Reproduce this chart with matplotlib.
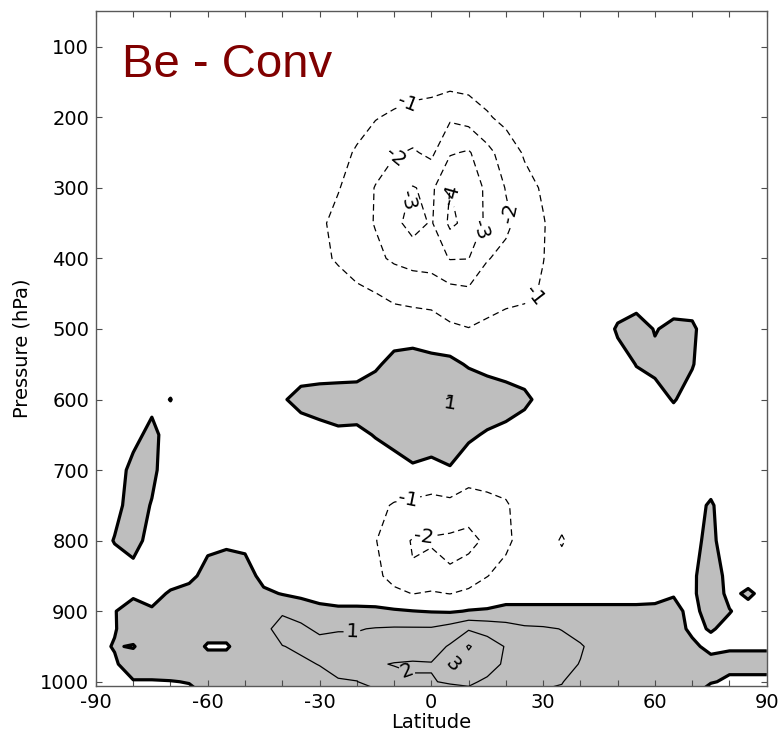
import numpy as np
import matplotlib
matplotlib.use("Agg")
import matplotlib.pyplot as plt
from matplotlib.ticker import MultipleLocator

plt.rcParams['axes.unicode_minus'] = False
plt.rcParams['lines.scale_dashes'] = False
plt.rcParams['lines.dashed_pattern'] = [4.7, 2.9]

# latitude grid (deg) and pressure levels (hPa)
lats = np.arange(-90, 95, 5)
plev = [50, 100, 150, 200, 250, 300, 350, 400, 450, 500, 550, 600, 650,
        700, 750, 800, 850, 875, 900, 925, 950, 975, 1000, 1013]

# Be - Conv difference, one row per pressure level, columns -90..90 every 5 deg
diff = [
    # 50
    [-.5, -.5, -.5, -.5, -.5, -.5, -.5, -.5, -.5, -.5,
     -.5, -.5, -.5, -.5, -.5, -.5, -.5, -.5, -.5, -.5,
     -.5, -.5, -.5, -.5, -.5, -.5, -.5, -.5, -.5, -.5,
     -.5, -.5, -.5, -.5, -.5, -.5, -.5],
    # 100
    [-.5, -.5, -.5, -.5, -.5, -.5, -.5, -.5, -.5, -.5,
     -.5, -.5, -.5, -.5, -.5, -.5, -.5, -.5, -.5, -.5,
     -.5, -.5, -.5, -.5, -.5, -.5, -.5, -.5, -.5, -.5,
     -.5, -.5, -.5, -.5, -.5, -.5, -.5],
    # 150
    [-.5, -.5, -.5, -.5, -.5, -.5, -.5, -.5, -.5, -.5,
     -.5, -.5, -.5, -.5, -.5, -.5, -.5, -.6, -.65, -.7,
     -.65, -.55, -.5, -.5, -.5, -.5, -.5, -.5, -.5, -.5,
     -.5, -.5, -.5, -.5, -.5, -.5, -.5],
    # 200
    [-.5, -.5, -.5, -.5, -.5, -.5, -.5, -.5, -.5, -.5,
     -.5, -.5, -.5, -.5, -.65, -.95, -1.15, -1.35, -1.45, -1.85,
     -1.6, -1.1, -.75, -.6, -.5, -.5, -.5, -.5, -.5, -.5,
     -.5, -.5, -.5, -.5, -.5, -.5, -.5],
    # 250
    [-.5, -.5, -.5, -.5, -.5, -.5, -.5, -.5, -.5, -.5,
     -.5, -.5, -.5, -.7, -1.1, -1.5, -1.9, -2.1, -1.8, -2.9,
     -3.1, -2.3, -1.5, -.9, -.6, -.5, -.5, -.5, -.5, -.5,
     -.5, -.5, -.5, -.5, -.5, -.5, -.5],
    # 300
    [-.5, -.5, -.5, -.5, -.5, -.5, -.5, -.5, -.5, -.5,
     -.5, -.5, -.6, -.95, -1.4, -2.05, -2.6, -3.05, -2.8, -4.0,
     -3.6, -2.8, -1.95, -1.3, -.9, -.6, -.5, -.5, -.5, -.5,
     -.5, -.5, -.5, -.5, -.5, -.5, -.5],
    # 350
    [-.5, -.5, -.5, -.5, -.5, -.5, -.5, -.5, -.5, -.5,
     -.5, -.55, -.85, -1.25, -1.65, -2.05, -2.7, -3.4, -2.9, -4.2,
     -3.7, -2.8, -2.2, -1.6, -1.05, -.6, -.5, -.5, -.5, -.5,
     -.5, -.5, -.5, -.5, -.5, -.5, -.5],
    # 400
    [-.5, -.5, -.5, -.5, -.5, -.5, -.5, -.5, -.5, -.5,
     -.5, -.5, -.8, -1.1, -1.45, -1.8, -2.15, -2.4, -2.5, -3.05,
     -3.02, -2.05, -1.75, -1.4, -1.02, -.6, -.5, -.5, -.5, -.5,
     -.5, -.5, -.5, -.5, -.5, -.5, -.5],
    # 450
    [-.5, -.5, -.5, -.5, -.5, -.5, -.5, -.5, -.5, -.5,
     -.5, -.5, -.5, -.6, -.8, -.98, -1.2, -1.25, -1.3, -1.6,
     -1.75, -1.45, -1.3, -1.2, -.9, -.6, -.5, -.5, -.5, -.5,
     -.5, -.5, -.5, -.5, -.5, -.5, -.5],
    # 500
    [-.5, -.5, -.5, -.5, -.5, -.5, -.5, -.5, -.5, -.5,
     -.5, -.5, -.5, -.5, -.5, -.5, -.5, -.6, -.65, -.85,
     -.97, -.8, -.6, -.5, -.5, -.5, -.5, -.5, .1, .4,
     -.05, .2, .15, -.5, -.5, -.5, -.5],
    # 550
    [-.5, -.5, -.5, -.5, -.5, -.5, -.5, -.5, -.5, -.5,
     -.5, -.5, -.5, -.5, -.5, -.15, .3, .5, .3, .25,
     -.1, -.3, -.5, -.5, -.5, -.5, -.5, -.5, -.3, .02,
     .2, .7, .05, -.5, -.5, -.5, -.5],
    # 600
    [-.5, -.5, -.5, -.3, .02, -.5, -.5, -.5, -.5, -.5,
     -.1, .3, .4, .45, .5, .6, .7, .8, .85, 1.05,
     .8, .6, .5, .2, -.3, -.5, -.5, -.5, -.5, -.3,
     -.3, .05, -.3, -.5, -.5, -.5, -.5],
    # 650
    [-.5, -.5, -.3, .3, -.5, -.5, -.5, -.5, -.5, -.5,
     -.5, -.5, -.3, -.15, -.2, .05, .4, .6, .6, .7,
     .15, -.1, -.3, -.5, -.5, -.5, -.5, -.5, -.5, -.5,
     -.5, -.5, -.5, -.5, -.5, -.5, -.5],
    # 700
    [-.5, -.5, .3, .2, -.5, -.5, -.5, -.5, -.5, -.5,
     -.5, -.5, -.5, -.5, -.5, -.5, -.5, -.15, -.35, -.1,
     -.5, -.5, -.5, -.5, -.5, -.5, -.5, -.5, -.5, -.5,
     -.5, -.5, -.5, -.5, -.5, -.5, -.5],
    # 750
    [-.5, -.3, .4, -.05, -.5, -.5, -.5, -.5, -.5, -.5,
     -.5, -.5, -.5, -.5, -.5, -.85, -1.05, -1.2, -1.3, -1.25,
     -1.5, -1.3, -1.1, -.6, -.5, -.5, -.5, -.5, -.5, -.5,
     -.5, -.5, -.3, .1, -.5, -.5, -.5],
    # 800
    [-.5, .05, .4, -.4, -.5, -.5, -.3, -.2, -.3, -.5,
     -.5, -.5, -.5, -.5, -.5, -.95, -1.7, -2.05, -2.1, -2.2,
     -2.3, -1.8, -1.2, -.6, -.5, -1.1, -.5, -.5, -.5, -.5,
     -.5, -.5, -.2, .2, -.5, -.5, -.5],
    # 850
    [-.5, -.5, -.4, -.4, -.4, -.3, .4, .6, .5, -.35,
     -.5, -.5, -.5, -.5, -.5, -.8, -1.3, -1.95, -1.6, -1.9,
     -1.5, -1.02, -.7, -.5, -.5, -.5, -.5, -.5, -.5, -.5,
     -.5, -.5, -.15, .5, -.3, -.5, -.5],
    # 875
    [-.4, -.2, -.2, -.3, .1, .4, .7, .8, .7, .2,
     -.05, -.3, -.4, -.5, -.5, -.6, -.8, -1.02, -.9, -1.02,
     -.8, -.6, -.5, -.5, -.5, -.5, -.5, -.5, -.5, -.5,
     -.4, -.1, -.2, .7, -.3, .2, -.4],
    # 900
    [-.4, -.05, .5, .1, .8, .8, .8, .9, .9, .6,
     .9, .8, .3, .2, .2, .2, .1, .02, -.05, -.1,
     .05, .1, .3, .3, .3, .3, .3, .3, .3, .3,
     .3, .4, -.4, .6, .05, -.4, -.4],
    # 925
    [-.4, -.1, .8, .8, .8, .8, .8, .8, .8, .8,
     1.3, 1.1, .9, .95, .95, 1.05, 1.1, 1.1, 1.1, 1.4,
     1.9, 1.7, 1.4, 1.15, 1.1, .98, .8, .6, .6, .6,
     .6, .6, -.3, .1, -.3, -.5, -.5],
    # 950
    [-.4, .1, -.1, .9, .9, .9, -.2, -.2, .9, .85,
     .98, 1.1, 1.2, 1.25, 1.25, 1.3, 1.4, 1.5, 1.6, 2.1,
     3.1, 2.4, 1.95, 1.5, 1.3, 1.2, 1.05, .8, .7, .7,
     .7, .7, .3, -.4, -.1, -.1, -.1],
    # 975
    [-.4, -.2, .8, .8, .8, .8, .8, .8, .8, .8,
     .8, .9, 1.02, 1.2, 1.4, 1.9, 2.05, 2.1, 2.05, 3.1,
     2.6, 2.5, 1.8, 1.5, 1.3, 1.15, .98, .7, .6, .6,
     .6, .6, .6, .5, .3, .3, .3],
    # 1000
    [-.4, -.2, -.1, -.1, -.05, .05, .3, .6, .6, .6,
     .6, .7, .8, .95, .98, 1.3, 1.6, 1.9, 1.95, 2.1,
     2.2, 1.8, 1.4, 1.2, 1.1, 1.02, .8, .6, .5, .5,
     .5, .5, .5, .1, -.2, -.2, -.2],
    # 1013
    [-.5, -.3, -.5, -.5, -.4, -.2, .2, .5, .5, .5,
     .5, .6, .7, .8, .85, .9, 1.3, 1.5, 1.6, 1.7,
     1.8, 1.5, 1.2, 1.1, .98, .95, .7, .5, .4, .4,
     .4, .4, .4, -.5, -.5, -.5, -.5],
]

neg_levels = [-4, -3, -2, -1]
pos_levels = [1, 2, 3]

# where the contour labels sit (lat, hPa)
neg_label_pos = [(-6.6, 178), (-10.3, 249), (-5.2, 320), (7.2, 308), (13.6, 360),
                 (20.6, 336), (28.3, 457), (-6.3, 738), (-2.2, 792)]
pos_label_pos = [(6.0, 610), (-21.3, 930), (-6.3, 981), (6.0, 978)]

field = np.array(diff)

fig = plt.figure(figsize=(7.84, 7.35), dpi=100)
ax = fig.add_axes([0.1224, 0.0667, 0.8556, 0.9177])

ax.contourf(lats, plev, field, levels=[0, 10], colors=['#bebebe'])
ax.contour(lats, plev, field, levels=[0], colors='k', linewidths=2.3)
cs_neg = ax.contour(lats, plev, field, levels=neg_levels, colors='k',
                    linewidths=0.9, linestyles='dashed')
cs_pos = ax.contour(lats, plev, field, levels=pos_levels, colors='k',
                    linewidths=0.9, linestyles='solid')
ax.clabel(cs_neg, fmt='%d', fontsize=14.5, inline=True, inline_spacing=2,
          manual=neg_label_pos)
ax.clabel(cs_pos, fmt='%d', fontsize=14.5, inline=True, inline_spacing=2,
          manual=pos_label_pos)

ax.set_xlim(-90, 90)
ax.set_ylim(1006, 50)
ax.xaxis.set_major_locator(MultipleLocator(30))
ax.xaxis.set_minor_locator(MultipleLocator(10))
ax.set_yticks([100, 200, 300, 400, 500, 600, 700, 800, 900, 1000])
ax.tick_params(which='both', direction='in', top=True, right=True,
               length=4.5, width=0.8, color='0.3', labelsize=14, pad=5)
for sp in ax.spines.values():
    sp.set_color('0.35')
    sp.set_linewidth(1.0)

ax.set_xlabel('Latitude', fontsize=14, labelpad=1)
ax.set_ylabel('Pressure (hPa)', fontsize=14, labelpad=6)

ax.text(0.039, 0.903, 'Be - Conv', transform=ax.transAxes, color='#800000',
        fontsize=34, family='Liberation Sans', va='baseline', ha='left')

fig.savefig('out.png', dpi=100)
